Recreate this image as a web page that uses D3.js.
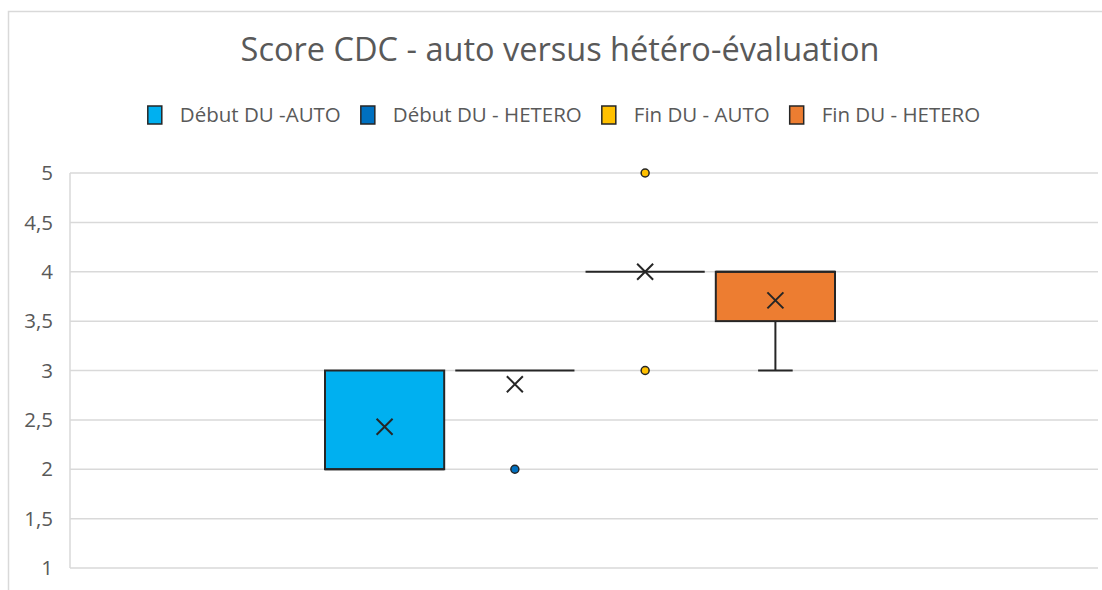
<!DOCTYPE html>
<html>
<head>
<meta charset="utf-8">
<script src="https://cdn.jsdelivr.net/npm/d3@7"></script>
<style>
  html, body { margin: 0; padding: 0; background: #fff; }
  svg { display: block; font-family: "Open Sans", sans-serif; }
  .tick-label { fill: #595959; font-size: 20.5px; }
  .legend-text { fill: #595959; font-size: 20.5px; }
  .title { fill: #595959; font-size: 32.5px; }
</style>
</head>
<body>
<svg id="chart" width="1102" height="590"></svg>
<script>
// data
const categories = ["1"];
const seriesNames = ["Début DU -AUTO", "Début DU - HETERO", "Fin DU - AUTO", "Fin DU - HETERO"];
const seriesColors = ["#00B0F0", "#0070C0", "#FFC000", "#ED7D31"];
const q1Values = [2, 3, 4, 3.5];
const medianValues = [2, 3, 4, 4];
const q3Values = [3, 3, 4, 4];
const whiskerLow = [2, 3, 4, 3];
const whiskerHigh = [3, 3, 4, 4];
const meanValues = [2.43, 2.86, 4, 3.71];
const outliers = [[], [2], [5, 3], []];
const yTicks = [1, 1.5, 2, 2.5, 3, 3.5, 4, 4.5, 5];

const width = 1102, height = 590;
const plot = { left: 70, right: 1098, top: 173, bottom: 568 };

const svg = d3.select("#chart");

// chart frame
svg.append("rect")
  .attr("x", 8.5).attr("y", 11.5)
  .attr("width", 1110).attr("height", 600)
  .attr("fill", "#fff")
  .attr("stroke", "#d9d9d9")
  .attr("stroke-width", 1.5);

const y = d3.scaleLinear().domain([1, 5]).range([plot.bottom, plot.top]);

// one category, series side by side inside it
const x0 = d3.scaleBand().domain(categories)
  .range([plot.left, plot.right - 8])
  .paddingInner(0).paddingOuter(0.5);
const x1 = d3.scaleBand().domain(seriesNames)
  .range([0, x0.bandwidth()])
  .paddingInner(0.085).paddingOuter(0);

// gridlines
svg.append("g")
  .selectAll("line")
  .data(yTicks)
  .join("line")
  .attr("x1", plot.left).attr("x2", plot.right)
  .attr("y1", d => y(d)).attr("y2", d => y(d))
  .attr("stroke", "#d9d9d9")
  .attr("stroke-width", 1.5);

svg.append("line")
  .attr("x1", plot.left).attr("x2", plot.left)
  .attr("y1", plot.top).attr("y2", plot.bottom)
  .attr("stroke", "#d9d9d9")
  .attr("stroke-width", 1.5);

// tick labels, decimal comma
svg.append("g")
  .selectAll("text")
  .data(yTicks)
  .join("text")
  .attr("class", "tick-label")
  .attr("x", 53)
  .attr("y", d => y(d))
  .attr("dy", "0.35em")
  .attr("text-anchor", "end")
  .text(d => String(d).replace(".", ","));

const boxes = seriesNames.map((name, i) => ({
  name, color: seriesColors[i],
  q1: q1Values[i], med: medianValues[i], q3: q3Values[i],
  lo: whiskerLow[i], hi: whiskerHigh[i],
  mean: meanValues[i], out: outliers[i],
  x: x0(categories[0]) + x1(name)
}));

const bw = x1.bandwidth();
const ink = "#262626";

const g = svg.append("g");

boxes.forEach(b => {
  const cx = b.x + bw / 2;
  const capW = bw * 0.29;
  // whiskers
  if (b.lo < b.q1) {
    g.append("line").attr("x1", cx).attr("x2", cx)
      .attr("y1", y(b.q1)).attr("y2", y(b.lo))
      .attr("stroke", ink).attr("stroke-width", 2);
    g.append("line").attr("x1", cx - capW / 2).attr("x2", cx + capW / 2)
      .attr("y1", y(b.lo)).attr("y2", y(b.lo))
      .attr("stroke", ink).attr("stroke-width", 2);
  }
  if (b.hi > b.q3) {
    g.append("line").attr("x1", cx).attr("x2", cx)
      .attr("y1", y(b.q3)).attr("y2", y(b.hi))
      .attr("stroke", ink).attr("stroke-width", 2);
    g.append("line").attr("x1", cx - capW / 2).attr("x2", cx + capW / 2)
      .attr("y1", y(b.hi)).attr("y2", y(b.hi))
      .attr("stroke", ink).attr("stroke-width", 2);
  }
  // box
  g.append("rect")
    .attr("x", b.x).attr("y", y(b.q3))
    .attr("width", bw).attr("height", y(b.q1) - y(b.q3))
    .attr("fill", b.color)
    .attr("stroke", ink).attr("stroke-width", 2);
  // median
  g.append("line").attr("x1", b.x).attr("x2", b.x + bw)
    .attr("y1", y(b.med)).attr("y2", y(b.med))
    .attr("stroke", ink).attr("stroke-width", 2);
  // mean marker
  const my = y(b.mean), s = 8;
  g.append("path")
    .attr("d", `M${cx - s},${my - s}L${cx + s},${my + s}M${cx - s},${my + s}L${cx + s},${my - s}`)
    .attr("stroke", ink).attr("stroke-width", 2).attr("fill", "none");
  // outliers
  g.selectAll(null)
    .data(b.out)
    .join("circle")
    .attr("cx", cx).attr("cy", d => y(d))
    .attr("r", 4)
    .attr("fill", b.color)
    .attr("stroke", ink).attr("stroke-width", 1.5);
});

// title
svg.append("text")
  .attr("class", "title")
  .attr("x", 560).attr("y", 61)
  .attr("text-anchor", "middle")
  .text("Score CDC - auto versus hétéro-évaluation");

// legend
const legend = svg.append("g");
const items = legend.selectAll("g")
  .data(boxes)
  .join("g");
items.append("rect")
  .attr("width", 14).attr("height", 18)
  .attr("y", 106)
  .attr("fill", d => d.color)
  .attr("stroke", ink).attr("stroke-width", 1.5);
items.append("text")
  .attr("class", "legend-text")
  .attr("x", 32).attr("y", 122)
  .text(d => d.name);

let lx = 0;
const itemX = [];
items.each(function () {
  itemX.push(lx);
  lx += 32 + this.querySelector("text").getComputedTextLength() + 20;
});
const legendW = lx - 20;
const startX = 564 - legendW / 2;
items.attr("transform", (d, i) => `translate(${startX + itemX[i]},0)`);
</script>
</body>
</html>
